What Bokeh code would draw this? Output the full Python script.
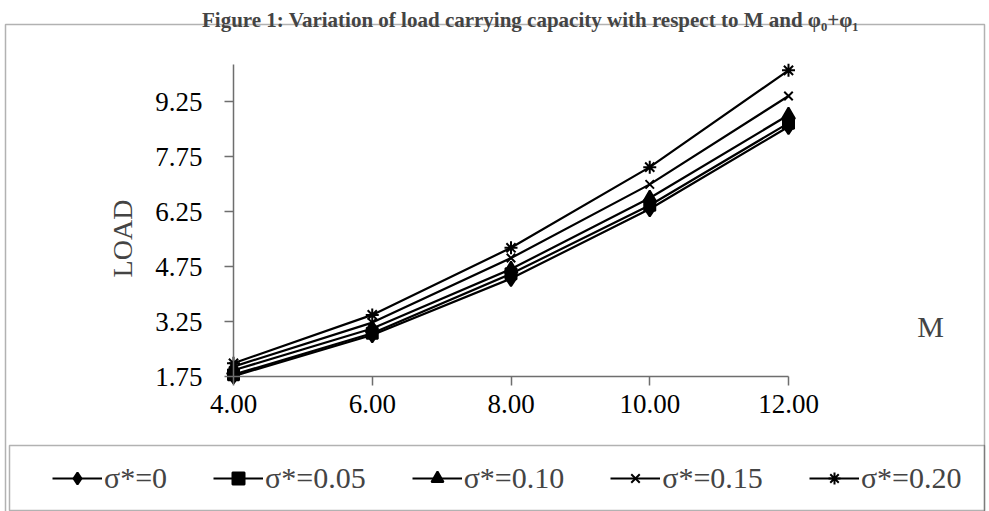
from bokeh.plotting import figure
from bokeh.models import (Range1d, FixedTicker, NumeralTickFormatter, Label,
                          BoxAnnotation, Legend, LegendItem)
from bokeh.embed import file_html
from bokeh.resources import INLINE

# ---- data ----
M = [4.0, 6.0, 8.0, 10.0, 12.0]
s_000 = [1.76, 2.88, 4.42, 6.32, 8.56]
s_005 = [1.80, 2.93, 4.55, 6.42, 8.66]
s_010 = [1.92, 3.06, 4.68, 6.62, 8.88]
s_015 = [2.02, 3.22, 4.98, 6.99, 9.40]
s_020 = [2.11, 3.43, 5.26, 7.46, 10.10]
series_names = ["σ*=0", "σ*=0.05", "σ*=0.10", "σ*=0.15", "σ*=0.20"]
series_vals = [s_000, s_005, s_010, s_015, s_020]
markers = ["diamond", "square", "triangle", "x", "asterisk"]
marker_sizes = [15, 11, 13, 12, 13]
y_ticks = [1.75, 3.25, 4.75, 6.25, 7.75, 9.25]
x_ticks = [4, 6, 8, 10, 12]
x_lo, x_hi = 4.0, 12.0
y_lo, y_hi = 1.75, 10.25

FONT = "Liberation Serif"
W, H = 989, 511
# canvas pixel positions of the axes
AX_LEFT, AX_RIGHT = 233, 788      # x = 4 and x = 12
AX_BOTTOM, TICK_TOP = 376, 101    # y = 1.75 and y = 9.25

ppx = (AX_RIGHT - AX_LEFT) / (x_hi - x_lo)
ppy = (AX_BOTTOM - TICK_TOP) / (y_ticks[-1] - y_ticks[0])
xr = Range1d(x_lo - AX_LEFT / ppx, x_hi + (W - AX_RIGHT) / ppx)
yr = Range1d(y_lo - (H - AX_BOTTOM) / ppy, y_lo + AX_BOTTOM / ppy)

p = figure(width=W, height=H, output_backend="svg", toolbar_location=None,
           x_range=xr, y_range=yr, min_border=0,
           min_border_left=0, min_border_right=0, min_border_top=0,
           min_border_bottom=0)
p.outline_line_color = None
p.xgrid.visible = False
p.ygrid.visible = False
p.background_fill_color = "white"
p.border_fill_color = "white"

for ax in (p.xaxis[0], p.yaxis[0]):
    ax.axis_line_color = "#6e6e6e"
    ax.axis_line_width = 1.5
    ax.major_tick_line_color = "#6e6e6e"
    ax.major_tick_line_width = 1.5
    ax.major_tick_out = 9
    ax.major_tick_in = 0
    ax.minor_tick_out = 0
    ax.minor_tick_in = 0
    ax.major_label_text_font = FONT
    ax.major_label_text_font_size = "27px"
    ax.major_label_text_color = "black"

p.xaxis[0].fixed_location = y_lo
p.xaxis[0].bounds = (x_lo, x_hi)
p.xaxis[0].ticker = FixedTicker(ticks=x_ticks)
p.xaxis[0].formatter = NumeralTickFormatter(format="0.00")
p.xaxis[0].major_label_standoff = 9
p.yaxis[0].fixed_location = x_lo
p.yaxis[0].bounds = (y_lo, y_hi)
p.yaxis[0].ticker = FixedTicker(ticks=y_ticks)
p.yaxis[0].formatter = NumeralTickFormatter(format="0.00")
p.yaxis[0].major_label_standoff = 22

items = []
for name, vals, mk, ms in zip(series_names, series_vals, markers, marker_sizes):
    ln = p.line(M, vals, line_color="black", line_width=2.2)
    sc = p.scatter(M, vals, marker=mk, size=ms, fill_color="black",
                   line_color="black", line_width=2)
    items.append(LegendItem(label=name, renderers=[ln, sc]))

legend = Legend(items=items, orientation="horizontal",
                location=(52, H - 495))
legend.label_text_font = FONT
legend.label_text_font_size = "30px"
legend.glyph_width = 50
legend.glyph_height = 30
legend.label_standoff = 2
legend.spacing = 46
legend.padding = 0
legend.margin = 0
legend.border_line_color = None
legend.background_fill_alpha = 0
p.add_layout(legend, "center")

# outer chart frame and legend box (screen units, origin bottom-left)
p.add_layout(BoxAnnotation(left=5, right=984, top=H - 24, bottom=-5,
                           left_units="screen", right_units="screen",
                           top_units="screen", bottom_units="screen",
                           fill_alpha=0, line_color="black", line_width=1.5))
p.add_layout(BoxAnnotation(left=9, right=984, top=H - 445, bottom=H - 510,
                           left_units="screen", right_units="screen",
                           top_units="screen", bottom_units="screen",
                           fill_alpha=0, line_color="black", line_width=1.5))

p.add_layout(Label(x=930, y=H - 326, x_units="screen", y_units="screen",
                   text="M", text_font=FONT, text_font_size="30px",
                   text_align="center", text_baseline="middle"))
p.add_layout(Label(x=122, y=H - 238, x_units="screen", y_units="screen",
                   text="LOAD", text_font=FONT, text_font_size="28px",
                   text_align="center", text_baseline="middle", angle=90,
                   angle_units="deg"))
p.add_layout(Label(x=530, y=H - 19, x_units="screen", y_units="screen",
                   text="Figure 1: Variation of load carrying capacity with respect to M and φ₀+φ₁",
                   text_font=FONT, text_font_size="21px", text_font_style="bold",
                   text_align="center", text_baseline="alphabetic"))

open("out.html", "w").write(file_html(p, INLINE))
